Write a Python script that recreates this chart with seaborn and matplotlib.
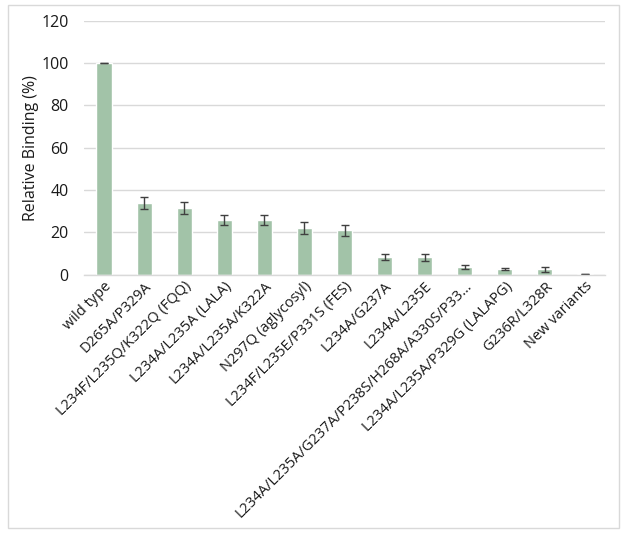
import matplotlib
matplotlib.use("Agg")
import matplotlib.pyplot as plt
import seaborn as sns
import pandas as pd
from matplotlib.patches import Rectangle

categories = ["wild type", "D265A/P329A", "L234F/L235Q/K322Q (FQQ)", "L234A/L235A (LALA)",
              "L234A/L235A/K322A", "N297Q (aglycosyl)", "L234F/L235E/P331S (FES)",
              "L234A/G237A", "L234A/L235E",
              "L234A/L235A/G237A/P238S/H268A/A330S/P33\u2026",
              "L234A/L235A/P329G (LALAPG)", "G236R/L328R", "New variants"]
values = [100, 34, 31.5, 26, 26, 22, 21, 8.5, 8.3, 3.7, 2.7, 2.5, 0.3]
errors = [0, 2.8, 2.7, 2.3, 2.3, 2.7, 2.6, 1.5, 1.6, 0.8, 0.7, 1.2, 0]
yticks = [0, 20, 40, 60, 80, 100, 120]

sns.set_theme(style="white")
plt.rcParams['font.family'] = ['Open Sans', 'DejaVu Sans']

df = pd.DataFrame({"cat": categories, "val": values})
colors = ["#a2c3a8"] * (len(categories) - 1) + ["#3f63a8"]

fig = plt.figure(figsize=(6.25, 5.35), dpi=100)
ax = fig.add_axes([0.1344, 0.4865, 0.8336, 0.4748])
sns.barplot(data=df, x="cat", y="val", hue="cat", palette=colors, legend=False,
            width=0.38, ax=ax, errorbar=None, saturation=1)
ax.errorbar(range(len(categories)), values, yerr=errors, fmt="none",
            ecolor="#404040", elinewidth=1.0, capsize=3, capthick=1.0)

ax.set_ylim(0, 120)
ax.set_yticks(yticks)
ax.set_xlim(-0.5, len(categories) - 0.5)
ax.yaxis.grid(True, color="#d9d9d9", linewidth=1)
ax.set_axisbelow(True)
for s in ["top", "right", "left"]:
    ax.spines[s].set_visible(False)
ax.spines["bottom"].set_color("#d9d9d9")
ax.spines["bottom"].set_linewidth(1)
ax.tick_params(axis="both", length=0, colors="#1a1a1a")
ax.tick_params(axis="y", pad=11, labelsize=11.5)
ax.tick_params(axis="x", pad=3, labelsize=10.5)
ax.set_xticks(range(len(categories)))
ax.set_xticklabels(categories, rotation=45, ha="right", rotation_mode="anchor")
ax.set_xlabel("")
ax.set_ylabel("Relative Binding (%)", fontsize=11.5, color="#1a1a1a", labelpad=2)

fig.patches.append(Rectangle((0.013, 0.013), 0.977, 0.977, transform=fig.transFigure,
                             fill=False, edgecolor="#d9d9d9", linewidth=1))
fig.savefig("out.png", dpi=100)
